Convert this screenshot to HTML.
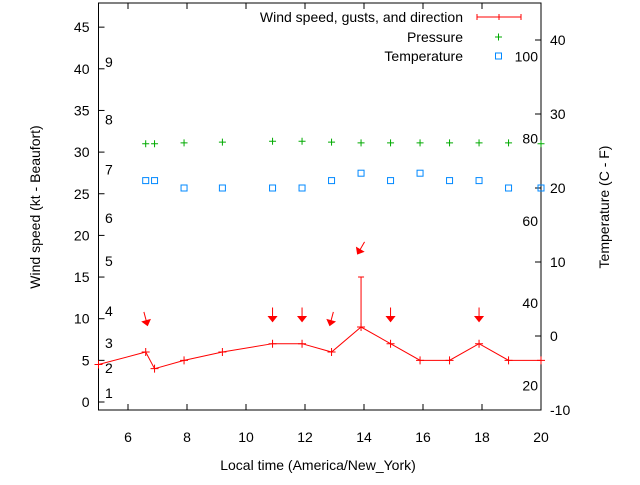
<!DOCTYPE html>
<html><head><meta charset="utf-8"><style>
body{margin:0;background:#fff}
svg text{font-family:"Liberation Sans",sans-serif;font-size:14px;fill:#000}
</style></head><body>
<svg id="c" width="640" height="480" xmlns="http://www.w3.org/2000/svg"></svg>
<script>
const times=[5,6.6,6.9,7.9,9.2,10.9,11.9,12.9,13.9,14.9,15.9,16.9,17.9,18.9,20];
const wind=[4.5,6,4,5,6,7,7,6,9,7,5,5,7,5,5];
const gustTimes=[13.9];
const gustVals=[15];
const presTimes=[6.6,6.9,7.9,9.2,10.9,11.9,12.9,13.9,14.9,15.9,16.9,17.9,18.9,20];
const pressure=[31,31,31.1,31.2,31.3,31.3,31.2,31.1,31.1,31.1,31.1,31.1,31.1,31];
const tempTimes=[6.6,6.9,7.9,9.2,10.9,11.9,12.9,13.9,14.9,15.9,16.9,17.9,18.9,20];
const temps=[21,21,20,20,20,20,21,22,21,22,21,21,20,20];
const arrowTimes=[6.6,10.9,11.9,12.9,13.9,14.9,17.9];
const arrowLevel=[10,10.5,10.5,10,18.5,10.5,10.5];
const arrowDir=[15,0,0,-15,-30,0,0];
const xTicks=[6,8,10,12,14,16,18,20];
const yTicks=[0,5,10,15,20,25,30,35,40,45];
const y2Ticks=[-10,0,10,20,30,40];
const bftLabels=["1","2","3","4","5","6","7","8","9"];
const bftVals=[1.08,4.08,7.08,10.9,16.9,22.1,27.9,33.9,40.8];
const fLabels=["20","40","60","80","100"];
const fVals=[20,40,60,80,100];

const L=98.5,R=541,T=3,B=410;
const X=t=>L+(t-5)*(R-L)/15;
const Y=v=>402-v*8.33;
const Y2=c=>410-(c+10)*7.4;
const NS="http://www.w3.org/2000/svg";
const svg=document.getElementById('c');
function mk(tag,a,name){const e=document.createElementNS(NS,tag);for(const k in a)e.setAttribute(k,a[k]);


svg.appendChild(e);return e;}
function txt(x,y,s,anchor,name,extra){const e=mk('text',Object.assign({x:x,y:y,'text-anchor':anchor},extra||{}),name);e.textContent=s;return e;}

mk('rect',{x:L,y:T,width:R-L,height:B-T,fill:'none',stroke:'#000','stroke-width':1},'plot-frame');
xTicks.forEach(t=>{const x=X(t);
mk('line',{x1:x,y1:B,x2:x,y2:B-6,stroke:'#000'},'x-tick');
mk('line',{x1:x,y1:T,x2:x,y2:T+6,stroke:'#000'},'x-tick-top');
txt(x,442,String(t),'middle','x-tick-label');});
yTicks.forEach(v=>{const y=Y(v);
mk('line',{x1:L,y1:y,x2:L+6,y2:y,stroke:'#000'},'y-tick');
txt(L-9,y+5,String(v),'end','y-tick-label');});
y2Ticks.forEach(c=>{const y=Y2(c);
mk('line',{x1:R,y1:y,x2:R-6,y2:y,stroke:'#000'},'y2-tick');
txt(R+9,y+5,String(c),'start','y2-tick-label');});
bftLabels.forEach((s,i)=>txt(105,Y(bftVals[i])+5,s,'start','beaufort-label'));
fLabels.forEach((s,i)=>txt(538,Y2((fVals[i]-32)*5/9)+5,s,'end','fahrenheit-label'));

txt(318,470,'Local time (America/New_York)','middle','x-axis-title');
txt(0,0,'Wind speed (kt - Beaufort)','middle','y-axis-title',{transform:'translate(40,207) rotate(-90)'});
txt(0,0,'Temperature (C - F)','middle','y2-axis-title',{transform:'translate(609,207) rotate(-90)'});

mk('polyline',{points:times.map((t,i)=>X(t)+','+Y(wind[i])).join(' '),fill:'none',stroke:'#f00','stroke-width':1},'wind-line');
times.forEach((t,i)=>{const x=X(t),y=Y(wind[i]);
mk('path',{d:`M${x-4},${y}h8M${x},${y-4}v8`,stroke:'#f00'},'wind-point');});
gustTimes.forEach((t,i)=>{const x=X(t);const w=wind[times.indexOf(t)];
mk('path',{d:`M${x},${Y(w)}V${Y(gustVals[i])}M${x-3},${Y(gustVals[i])}h6`,stroke:'#f00'},'gust-bar');});
arrowTimes.forEach((t,i)=>{const x=X(t),y=Y(arrowLevel[i]);
const g=mk('g',{transform:`translate(${x},${y}) rotate(${-arrowDir[i]})`},'wind-direction-arrow');
const p=document.createElementNS(NS,'path');p.setAttribute('d','M0,-7V7M-4,2L0,7L4,2Z');p.setAttribute('stroke','#f00');p.setAttribute('fill','#f00');


g.appendChild(p);});
presTimes.forEach((t,i)=>{const x=X(t),y=Y(pressure[i]);
mk('path',{d:`M${x-3.5},${y}h7M${x},${y-3.5}v7`,stroke:'#0a0'},'pressure-point');});
tempTimes.forEach((t,i)=>{const x=X(t),y=Y2(temps[i]);
mk('rect',{x:x-3,y:y-3,width:6,height:6,fill:'none',stroke:'#08f','stroke-width':1},'temperature-point');});

txt(463,22,'Wind speed, gusts, and direction','end','legend-wind-label');
mk('path',{d:'M477,17h44M477,14v6M521,14v6M499,14v6',stroke:'#f00'},'legend-wind-sample');
txt(463,42,'Pressure','end','legend-pressure-label');
mk('path',{d:'M495,37h7M498.5,33.5v7',stroke:'#0a0'},'legend-pressure-sample');
txt(463,61,'Temperature','end','legend-temperature-label');
mk('rect',{x:495.5,y:53,width:6,height:6,fill:'none',stroke:'#08f'},'legend-temperature-sample');
</script>
</body></html>
